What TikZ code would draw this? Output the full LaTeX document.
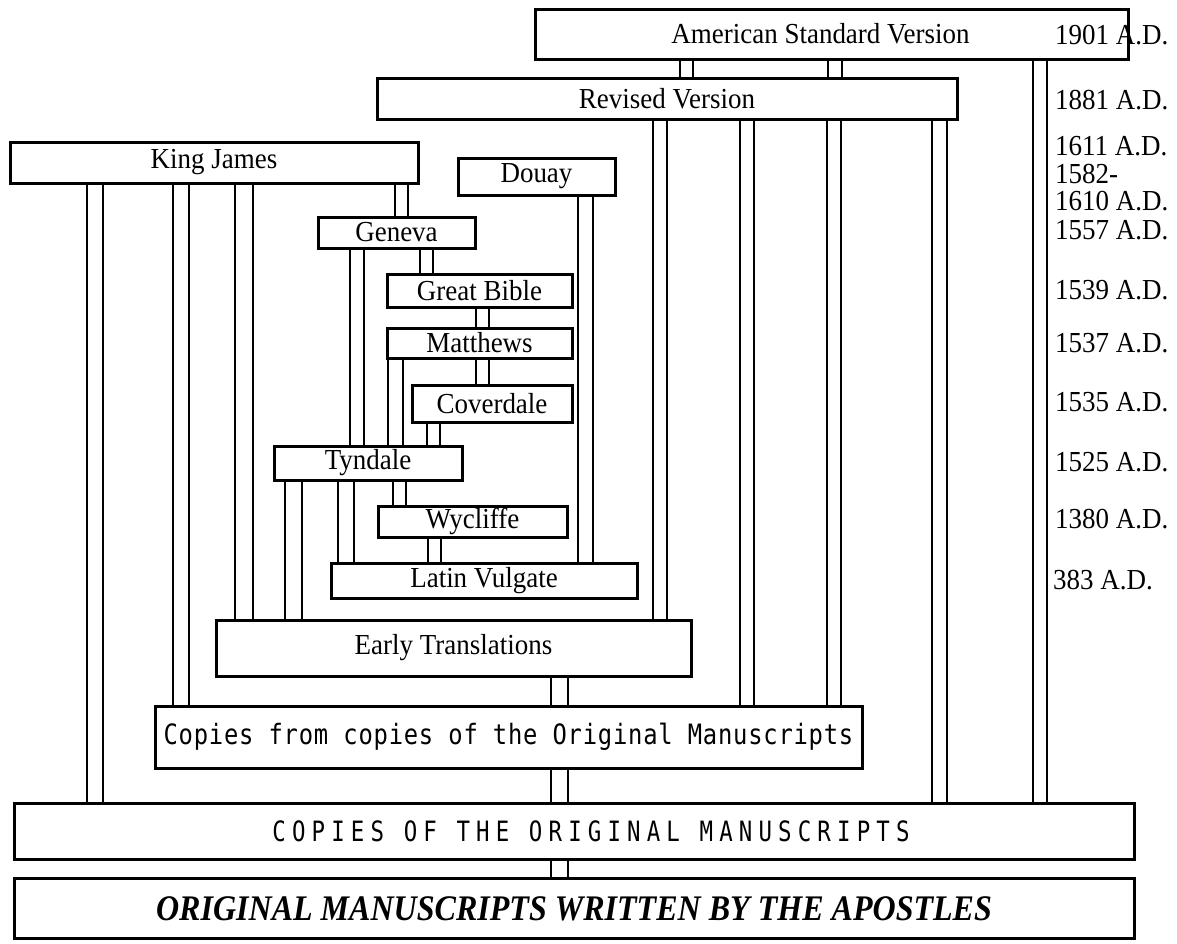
\documentclass[tikz,border=0pt]{standalone}
\usepackage{fontspec}
\setmainfont{Liberation Serif}[FakeStretch=0.93]
\newfontfamily\cfcfont[FakeStretch=0.85,LetterSpace=2.8]{DejaVu Sans Mono}
\newfontfamily\copfont[FakeStretch=0.8,LetterSpace=22]{DejaVu Sans Mono}
\newfontfamily\origfont[FakeStretch=0.89]{Liberation Serif}
\newcommand\dbl[4]{%
  \draw[conn] (#1.south -| #3,0) -- (#2.north -| #3,0);
  \draw[conn] (#1.south -| #4,0) -- (#2.north -| #4,0);}
\begin{document}
\begin{tikzpicture}[x=1pt,y=-1pt,
  box/.style={draw, line width=3pt, inner sep=0pt, fill=white,
    font=\fontsize{29}{31}\selectfont},
  conn/.style={line width=2.4pt},
  date/.style={anchor=west, inner sep=0pt, font=\fontsize{29}{31}\selectfont}]
\fill[white] (0,0) rectangle (1177,943);
\useasboundingbox (0,0) rectangle (1177,943);

% boxes
\node[box, minimum width=593pt, minimum height=50pt] (asv) at (831.5,34) {American Standard Version\hspace*{22pt}};
\node[box, minimum width=580pt, minimum height=41pt] (rv) at (667,98.5) {Revised Version};
\node[box, minimum width=408pt, minimum height=41pt] (kj) at (214,162.5) {King James};
\node[box, minimum width=157pt, minimum height=37pt] (douay) at (536.5,176.5) {Douay};
\node[box, minimum width=157pt, minimum height=31pt] (geneva) at (396.5,232.5) {Geneva};
\node[box, minimum width=185pt, minimum height=33pt] (great) at (479.5,290.5) {Great Bible};
\node[box, minimum width=185pt, minimum height=30pt] (matthews) at (479.5,343) {Matthews};
\node[box, minimum width=160pt, minimum height=37pt] (coverdale) at (492,403.5) {Coverdale};
\node[box, minimum width=188pt, minimum height=34pt] (tyndale) at (368,463) {Tyndale};
\node[box, minimum width=189pt, minimum height=31pt] (wycliffe) at (472.5,521.5) {Wycliffe};
\node[box, minimum width=306pt, minimum height=35pt] (vulgate) at (484,580.5) {Latin Vulgate};
\node[box, minimum width=475pt, minimum height=56pt] (early) at (453.5,648) {Early Translations};
\node[box, minimum width=707pt, minimum height=62pt] (cfc) at (508.5,737) {\fontsize{28}{30}\cfcfont Copies from copies of the Original Manuscripts};
\node[box, minimum width=1120pt, minimum height=56pt] (copies) at (574,831.5) {\hspace*{34pt}\fontsize{28}{30}\copfont COPIES OF THE ORIGINAL MANUSCRIPTS};
\node[box, minimum width=1120pt, minimum height=60pt] (orig) at (574,908.5) {\fontsize{36}{38}\origfont\bfseries\itshape ORIGINAL MANUSCRIPTS WRITTEN BY THE APOSTLES};

% dates
\node[date] (d1901) at (1055,35) {1901 A.D.};
\node[date] (d1881) at (1055,100) {1881 A.D.};
\node[date] (d1611) at (1055,146) {1611 A.D.};
\node[date] (d1582) at (1055,174) {1582-};
\node[date] (d1610) at (1055,201) {1610 A.D.};
\node[date] (d1557) at (1055,230) {1557 A.D.};
\node[date] (d1539) at (1055,290) {1539 A.D.};
\node[date] (d1537) at (1055,343) {1537 A.D.};
\node[date] (d1535) at (1055,402) {1535 A.D.};
\node[date] (d1525) at (1055,462) {1525 A.D.};
\node[date] (d1380) at (1055,519) {1380 A.D.};
\node[date] (d383) at (1053,580) {383 A.D.};

% connectors (double lines)
\dbl{asv}{rv}{680}{693}
\dbl{asv}{rv}{828}{842}
\dbl{asv}{copies}{1033}{1047}
\dbl{rv}{early}{653}{667}
\dbl{rv}{cfc}{740}{754}
\dbl{rv}{cfc}{827}{841}
\dbl{rv}{copies}{932}{947}
\dbl{kj}{copies}{87}{103}
\dbl{kj}{cfc}{173}{189}
\dbl{kj}{early}{235}{253}
\dbl{kj}{geneva}{395}{408}
\dbl{douay}{vulgate}{578}{593}
\dbl{geneva}{great}{420}{433}
\dbl{geneva}{tyndale}{350}{364}
\dbl{great}{matthews}{476}{489}
\dbl{matthews}{coverdale}{476}{489}
\dbl{matthews}{tyndale}{388}{403}
\dbl{coverdale}{tyndale}{427}{440}
\dbl{tyndale}{early}{285}{302}
\dbl{tyndale}{vulgate}{338}{354}
\dbl{tyndale}{wycliffe}{393}{406}
\dbl{wycliffe}{vulgate}{428}{441}
\dbl{early}{cfc}{551}{568}
\dbl{cfc}{copies}{551}{568}
\dbl{copies}{orig}{551}{568}
\end{tikzpicture}
\end{document}
